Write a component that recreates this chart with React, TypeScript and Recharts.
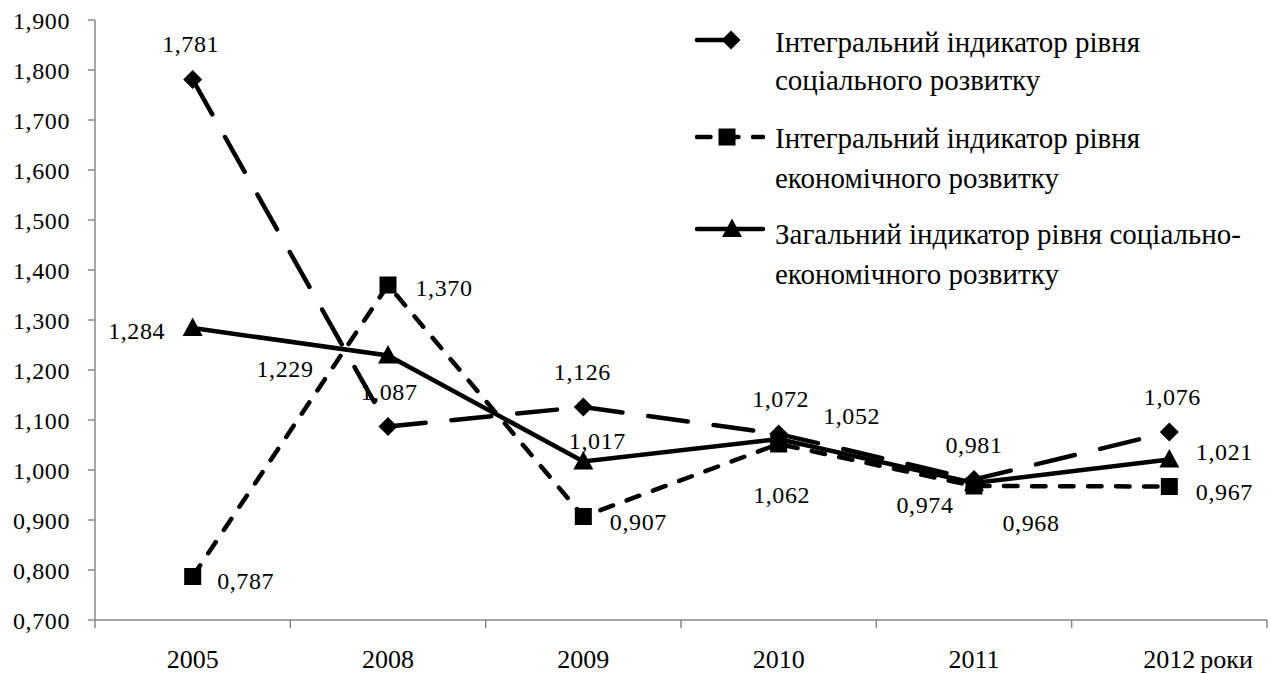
import React from "react";
import { LineChart, Line, XAxis, YAxis, LabelList } from "recharts";

// years on the x axis
const years = ["2005", "2008", "2009", "2010", "2011", "2012"];
// integral indicator of the level of social development
const socialValues = [1.781, 1.087, 1.126, 1.072, 0.981, 1.076];
// integral indicator of the level of economic development
const economicValues = [0.787, 1.37, 0.907, 1.052, 0.968, 0.967];
// general indicator of socio-economic development
const generalValues = [1.284, 1.229, 1.017, 1.062, 0.974, 1.021];
const yTicks = [0.7, 0.8, 0.9, 1.0, 1.1, 1.2, 1.3, 1.4, 1.5, 1.6, 1.7, 1.8, 1.9];
const legendLines = [
	["Інтегральний індикатор рівня", "соціального розвитку"],
	["Інтегральний індикатор рівня", "економічного розвитку"],
	["Загальний індикатор рівня соціально-", "економічного розвитку"],
];
const yearsSuffix = "роки";

const data = years.map((year, i) => ({
	year,
	social: socialValues[i],
	economic: economicValues[i],
	general: generalValues[i],
}));

// label placement (dx, dy from the point) - Excel put them by hand
const socialLabelPos = [[-2, -36], [1, -35], [-1, -35], [2, -35], [0, -35], [3, -35]];
const economicLabelPos = [[53, 4], [56, 3], [55, 5], [73, -28], [57, 37], [55, 5]];
const generalLabelPos = [[-56, 3], [-103, 13], [14, -21], [3, 56], [-49, 22], [55, -8]];

const FONT = '"Liberation Serif", "Times New Roman", serif';
const AXIS = "#878787";
const HALF_BAND = 97.67;
const SOCIAL_DASH = "40 26";
const ECON_DASH = "13.5 14.5";

const fmt = (v: number) => v.toFixed(3).replace(".", ",");

const diamond = (cx: number, cy: number, key?: string) => (
	<polygon
		key={key}
		points={`${cx},${cy - 9.5} ${cx + 9.5},${cy} ${cx},${cy + 9.5} ${cx - 9.5},${cy}`}
		fill="#000"
	/>
);
const square = (cx: number, cy: number, key?: string) => (
	<rect key={key} x={cx - 8.5} y={cy - 8.5} width={17} height={17} fill="#000" />
);
const triangle = (cx: number, cy: number, key?: string) => (
	<polygon
		key={key}
		points={`${cx},${cy - 10.5} ${cx + 10},${cy + 8} ${cx - 10},${cy + 8}`}
		fill="#000"
	/>
);

const makeLabel = (pos: number[][]) => (props: any) => {
	const { x, y, value, index } = props;
	const [dx, dy] = pos[index];
	return (
		<text
			x={x + dx}
			y={y + dy}
			textAnchor="middle"
			dominantBaseline="central"
			fontFamily={FONT}
			fontSize={24}
			letterSpacing={0.6}
			fill="#000"
		>
			{fmt(value)}
		</text>
	);
};

const XTick = (props: any) => {
	const { x, y, payload, index } = props;
	const last = index === years.length - 1;
	return (
		<g>
			<line x1={x - HALF_BAND} x2={x - HALF_BAND} y1={y} y2={y + 8} stroke={AXIS} strokeWidth={1.5} />
			{last && (
				<line x1={x + HALF_BAND} x2={x + HALF_BAND} y1={y} y2={y + 8} stroke={AXIS} strokeWidth={1.5} />
			)}
			<text x={x} y={y + 48} textAnchor="middle" fontFamily={FONT} fontSize={26} fill="#000">
				{payload.value}
			</text>
			{last && (
				<text x={x + 31} y={y + 48} textAnchor="start" fontFamily={FONT} fontSize={26} fill="#000">
					{yearsSuffix}
				</text>
			)}
		</g>
	);
};

const LegendBox = () => {
	const rows = [
		{ icon: 40, base: [52, 90], dash: SOCIAL_DASH, marker: diamond, mx: 731 },
		{ icon: 137, base: [148, 188], dash: ECON_DASH, marker: square, mx: 727 },
		{ icon: 229, base: [244, 284], dash: undefined, marker: triangle, mx: 732 },
	];
	return (
		<svg
			width={1271}
			height={673}
			style={{ position: "absolute", left: 0, top: 0, pointerEvents: "none" }}
		>
			{rows.map((r, i) => (
				<g key={i}>
					<line
						x1={697}
						x2={763}
						y1={r.icon}
						y2={r.icon}
						stroke="#000"
						strokeWidth={4.5}
						strokeDasharray={r.dash}
						strokeLinecap="round"
					/>
					{r.marker(r.mx, r.icon)}
					{legendLines[i].map((t, j) => (
						<text
							key={j}
							x={775}
							y={r.base[j]}
							fontFamily={FONT}
							fontSize={29}
							fill="#000"
						>
							{t}
						</text>
					))}
				</g>
			))}
		</svg>
	);
};

export default function App() {
	return (
		<div style={{ position: "absolute", left: 0, top: 0, width: 1271, height: 673, background: "#fff" }}>
			<LineChart
				width={1271}
				height={673}
				data={data}
				margin={{ top: 20, right: 4, left: 0, bottom: 0 }}
			>
				<XAxis
					dataKey="year"
					padding={{ left: HALF_BAND, right: HALF_BAND }}
					axisLine={{ stroke: AXIS, strokeWidth: 1.5 }}
					tickLine={false}
					tickSize={0}
					tickMargin={0}
					interval={0}
					height={53}
					tick={<XTick />}
				/>
				<YAxis
					type="number"
					domain={[0.7, 1.9]}
					ticks={yTicks}
					interval={0}
					width={95}
					axisLine={{ stroke: AXIS, strokeWidth: 1.5 }}
					tickLine={{ stroke: AXIS, strokeWidth: 1.5 }}
					tickSize={7}
					tickMargin={18}
					tickFormatter={fmt}
					tick={{ fill: "#000", fontSize: 24, fontFamily: FONT, letterSpacing: 0.6 }}
				/>
				<Line
					dataKey="social"
					stroke="#000"
					strokeWidth={4.5}
					strokeDasharray={SOCIAL_DASH}
					strokeLinecap="round"
					dot={(p: any) => diamond(p.cx, p.cy, `s${p.index}`)}
					activeDot={false}
					isAnimationActive={false}
				>
					<LabelList dataKey="social" content={makeLabel(socialLabelPos)} />
				</Line>
				<Line
					dataKey="economic"
					stroke="#000"
					strokeWidth={4.5}
					strokeDasharray={ECON_DASH}
					strokeLinecap="round"
					dot={(p: any) => square(p.cx, p.cy, `e${p.index}`)}
					activeDot={false}
					isAnimationActive={false}
				>
					<LabelList dataKey="economic" content={makeLabel(economicLabelPos)} />
				</Line>
				<Line
					dataKey="general"
					stroke="#000"
					strokeWidth={4.5}
					dot={(p: any) => triangle(p.cx, p.cy, `g${p.index}`)}
					activeDot={false}
					isAnimationActive={false}
				>
					<LabelList dataKey="general" content={makeLabel(generalLabelPos)} />
				</Line>
			</LineChart>
			<LegendBox />
		</div>
	);
}
